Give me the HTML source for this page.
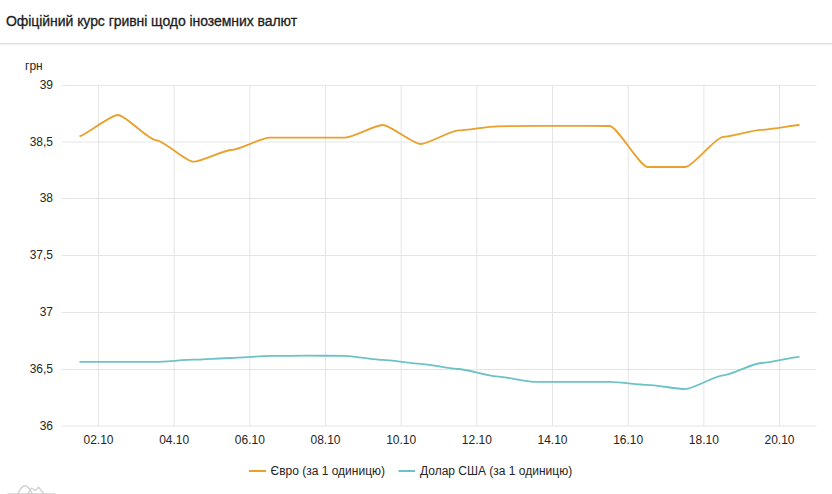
<!DOCTYPE html>
<html><head><meta charset="utf-8"><style>
html,body{margin:0;padding:0;background:#fff;width:832px;height:494px;overflow:hidden}
body{position:relative;font-family:"Liberation Sans",sans-serif}
.title{position:absolute;left:6px;top:11px;font-size:14px;line-height:20px;color:#212121;white-space:nowrap;letter-spacing:-0.06px;-webkit-text-stroke:0.3px #1e1e1e}
.sep{position:absolute;left:0;top:43px;width:832px;height:1px;background:#dcdcdc;box-shadow:0 1px 2px rgba(0,0,0,0.08)}
svg{position:absolute;left:0;top:0}
svg text{font-family:"Liberation Sans",sans-serif;font-size:12px;fill:#252525}
</style></head><body>
<div class="title">Офіційний курс гривні щодо іноземних валют</div>
<div class="sep"></div>
<svg width="832" height="494" viewBox="0 0 832 494">
<g stroke="#e5e5e5" stroke-width="1" fill="none"><line x1="61.8" x2="816.5" y1="85.50" y2="85.50"/><line x1="61.8" x2="816.5" y1="142.00" y2="142.00"/><line x1="61.8" x2="816.5" y1="198.50" y2="198.50"/><line x1="61.8" x2="816.5" y1="255.50" y2="255.50"/><line x1="61.8" x2="816.5" y1="312.50" y2="312.50"/><line x1="61.8" x2="816.5" y1="369.50" y2="369.50"/><line x1="61.8" x2="816.5" y1="426.00" y2="426.00"/><line x1="98.50" x2="98.50" y1="85" y2="426"/><line x1="174.17" x2="174.17" y1="85" y2="426"/><line x1="249.84" x2="249.84" y1="85" y2="426"/><line x1="325.51" x2="325.51" y1="85" y2="426"/><line x1="401.18" x2="401.18" y1="85" y2="426"/><line x1="476.85" x2="476.85" y1="85" y2="426"/><line x1="552.52" x2="552.52" y1="85" y2="426"/><line x1="628.19" x2="628.19" y1="85" y2="426"/><line x1="703.86" x2="703.86" y1="85" y2="426"/><line x1="779.53" x2="779.53" y1="85" y2="426"/></g>
<text x="25" y="69.7">грн</text>
<text x="53" y="89.00" text-anchor="end">39</text><text x="53" y="145.50" text-anchor="end">38,5</text><text x="53" y="202.00" text-anchor="end">38</text><text x="53" y="259.00" text-anchor="end">37,5</text><text x="53" y="316.00" text-anchor="end">37</text><text x="53" y="373.00" text-anchor="end">36,5</text><text x="53" y="429.50" text-anchor="end">36</text>
<text x="98.50" y="443.6" text-anchor="middle">02.10</text><text x="174.17" y="443.6" text-anchor="middle">04.10</text><text x="249.84" y="443.6" text-anchor="middle">06.10</text><text x="325.51" y="443.6" text-anchor="middle">08.10</text><text x="401.18" y="443.6" text-anchor="middle">10.10</text><text x="476.85" y="443.6" text-anchor="middle">12.10</text><text x="552.52" y="443.6" text-anchor="middle">14.10</text><text x="628.19" y="443.6" text-anchor="middle">16.10</text><text x="703.86" y="443.6" text-anchor="middle">18.10</text><text x="779.53" y="443.6" text-anchor="middle">20.10</text>
<path d="M80.20,136.00 C83.98,136.00 110.46,115.00 118.02,115.00 C125.58,115.00 148.28,140.10 155.84,140.10 C163.40,140.10 186.10,161.70 193.66,161.70 C201.22,161.70 223.92,150.00 231.48,150.00 C239.04,150.00 261.74,137.70 269.30,137.70 C276.86,137.70 299.56,137.70 307.12,137.70 C314.68,137.70 337.38,137.60 344.94,137.60 C352.50,137.60 375.20,125.00 382.76,125.00 C390.32,125.00 413.02,144.00 420.58,144.00 C428.14,144.00 450.84,130.40 458.40,130.40 C465.96,130.40 488.66,126.30 496.22,126.30 C503.78,126.30 526.48,125.90 534.04,125.90 C541.60,125.90 564.30,125.90 571.86,125.90 C579.42,125.90 602.12,126.00 609.68,126.00 C617.24,126.00 639.94,167.00 647.50,167.00 C655.06,167.00 677.76,167.00 685.32,167.00 C692.88,167.00 715.58,136.80 723.14,136.80 C730.70,136.80 753.40,129.80 760.96,129.80 C768.52,129.80 795.00,125.00 798.78,125.00" fill="none" stroke="#eaa02c" stroke-width="1.8" stroke-linejoin="round" stroke-linecap="round"/>
<path d="M80.20,361.90 C83.98,361.90 110.46,361.90 118.02,361.90 C125.58,361.90 148.28,361.90 155.84,361.90 C163.40,361.90 186.10,359.70 193.66,359.70 C201.22,359.70 223.92,358.00 231.48,358.00 C239.04,358.00 261.74,355.90 269.30,355.90 C276.86,355.90 299.56,355.70 307.12,355.70 C314.68,355.70 337.38,355.80 344.94,355.80 C352.50,355.80 375.20,359.90 382.76,359.90 C390.32,359.90 413.02,363.80 420.58,363.80 C428.14,363.80 450.84,369.00 458.40,369.00 C465.96,369.00 488.66,376.40 496.22,376.40 C503.78,376.40 526.48,381.90 534.04,381.90 C541.60,381.90 564.30,381.90 571.86,381.90 C579.42,381.90 602.12,381.90 609.68,381.90 C617.24,381.90 639.94,384.90 647.50,384.90 C655.06,384.90 677.76,389.10 685.32,389.10 C692.88,389.10 715.58,375.40 723.14,375.40 C730.70,375.40 753.40,363.00 760.96,363.00 C768.52,363.00 795.00,356.90 798.78,356.90" fill="none" stroke="#6cc3c6" stroke-width="1.8" stroke-linejoin="round" stroke-linecap="round"/>
<line x1="249" x2="266" y1="471" y2="471" stroke="#eaa02c" stroke-width="2"/>
<text x="270.5" y="475">Євро (за 1 одиницю)</text>
<line x1="398.5" x2="415" y1="471" y2="471" stroke="#6cc3c6" stroke-width="2"/>
<text x="420" y="475">Долар США (за 1 одиницю)</text>
<g fill="none" stroke="#d2d2d2" stroke-width="1.4" stroke-linejoin="round" stroke-linecap="round">
<path d="M8,494 L55,494"/>
<path d="M17.5,494.5 Q25,477 32.5,494.5"/>
<path d="M27.5,494.5 L31.5,488 L35.3,490.5 L38.6,487.3 L44.5,494.5"/>
</g>
</svg>
</body></html>
